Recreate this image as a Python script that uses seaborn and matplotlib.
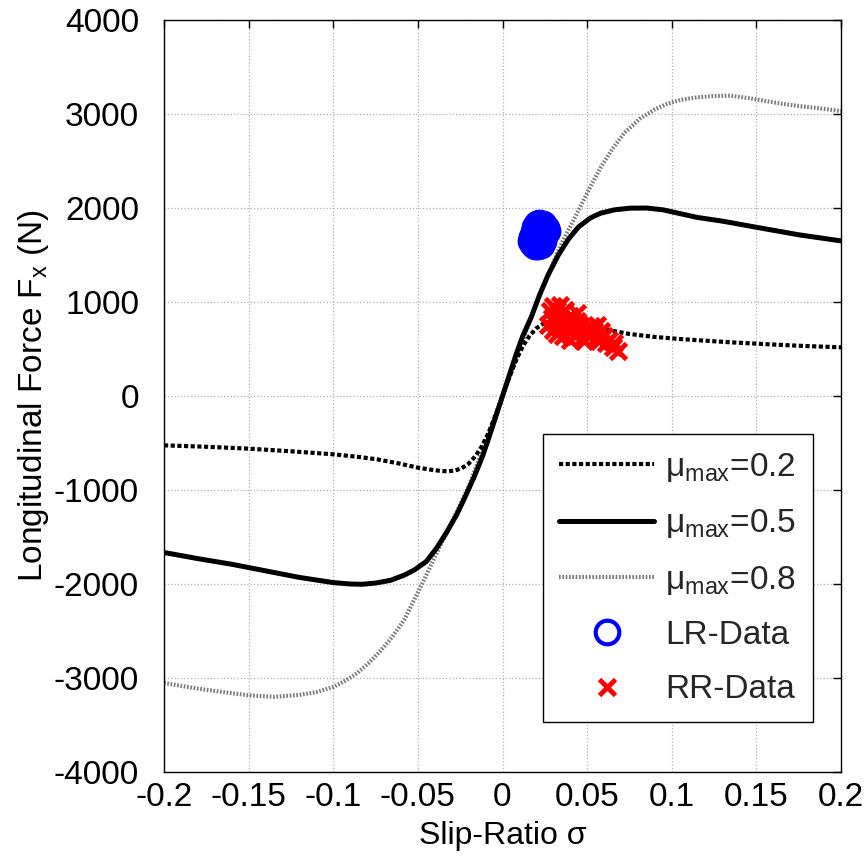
import matplotlib
matplotlib.use("Agg")
import matplotlib.pyplot as plt
import seaborn as sns
import pandas as pd
from matplotlib.lines import Line2D

# ---------------- data ----------------
mu02_s = [-0.2, -0.175, -0.15, -0.125, -0.1, -0.085, -0.074, -0.062, -0.05, -0.042, -0.036,
          -0.032, -0.028, -0.024, -0.02, -0.016, -0.012, -0.008, -0.004, 0.0,
          0.004, 0.008, 0.012, 0.016, 0.02, 0.024, 0.028, 0.032, 0.036, 0.042, 0.05, 0.06,
          0.075, 0.09, 0.105, 0.12, 0.135, 0.15, 0.165, 0.18, 0.2]
mu02_f = [-525, -540, -560, -588, -620, -648, -674, -715, -762, -785, -798,
          -801, -792, -768, -720, -640, -530, -380, -200, 0,
          200, 380, 530, 640, 720, 768, 792, 800, 797, 782, 752, 710,
          660, 628, 606, 588, 571, 557, 543, 531, 518]

mu05_s = [-0.2, -0.18, -0.16, -0.14, -0.12, -0.1, -0.09, -0.083, -0.075, -0.066, -0.058,
          -0.052, -0.045, -0.039, -0.033, -0.027, -0.022, -0.017, -0.012, -0.008, -0.004, 0.0,
          0.004, 0.008, 0.012, 0.017, 0.022, 0.027, 0.033, 0.039, 0.045, 0.052, 0.058,
          0.066, 0.075, 0.085, 0.095, 0.105, 0.115, 0.13, 0.15, 0.175, 0.2]
mu05_f = [-1665, -1730, -1790, -1860, -1930, -1985, -2000, -2003, -1990, -1960, -1905,
          -1850, -1760, -1620, -1450, -1260, -1070, -870, -650, -440, -220, 0,
          220, 440, 640, 840, 1080, 1290, 1500, 1670, 1800, 1895, 1945,
          1980, 1998, 2000, 1980, 1940, 1900, 1860, 1795, 1715, 1650]

mu08_s = [-0.2, -0.18, -0.165, -0.15, -0.135, -0.12, -0.11, -0.1, -0.093, -0.086, -0.079,
          -0.072, -0.065, -0.058, -0.052, -0.047, -0.042, -0.037, -0.032, -0.027, -0.02,
          -0.01, 0.0, 0.01, 0.02, 0.027, 0.032, 0.037, 0.042, 0.047, 0.052, 0.058, 0.065,
          0.072, 0.081, 0.09, 0.097, 0.105, 0.115, 0.125, 0.135, 0.145, 0.155, 0.165,
          0.175, 0.19, 0.2]
mu08_f = [-3053, -3113, -3150, -3184, -3200, -3180, -3150, -3096, -3030, -2950, -2840,
          -2710, -2560, -2380, -2160, -1980, -1790, -1600, -1420, -1230, -960,
          -490, 0, 490, 980, 1280, 1511, 1700, 1870, 2050, 2230, 2430, 2630,
          2800, 2947, 3050, 3106, 3150, 3177, 3192, 3195, 3170, 3140, 3110,
          3085, 3055, 3030]

lr_s = [0.0180, 0.0192, 0.0210, 0.0228, 0.0240, 0.0175, 0.0185, 0.0200, 0.0218, 0.0232,
        0.0248, 0.0190, 0.0205, 0.0222, 0.0240, 0.0255, 0.0212, 0.0228, 0.0198, 0.0215,
        0.0262, 0.0170, 0.0205, 0.0245, 0.0185]
lr_f = [1620, 1600, 1595, 1610, 1650, 1690, 1740, 1700, 1660, 1720,
        1760, 1800, 1830, 1835, 1825, 1790, 1760, 1800, 1640, 1840,
        1760, 1650, 1610, 1700, 1680]

rr_s = [0.028, 0.030, 0.032, 0.034, 0.029, 0.031, 0.033, 0.035, 0.037, 0.036, 0.038,
        0.030, 0.032, 0.034, 0.040, 0.041, 0.039, 0.042, 0.044, 0.043, 0.046, 0.045,
        0.047, 0.049, 0.050, 0.052, 0.054, 0.056, 0.055, 0.058, 0.057, 0.060, 0.061,
        0.063, 0.065, 0.068, 0.066, 0.036, 0.040, 0.027, 0.048, 0.044]
rr_f = [900, 960, 920, 970, 830, 780, 850, 880, 920, 800, 760,
        700, 660, 720, 850, 780, 690, 720, 800, 650, 760, 690,
        620, 700, 650, 740, 690, 760, 620, 690, 580, 640, 560,
        600, 520, 480, 560, 640, 600, 760, 580, 880]

labels = ["μ$_{\\mathrm{max}}$=0.2", "μ$_{\\mathrm{max}}$=0.5", "μ$_{\\mathrm{max}}$=0.8",
          "LR-Data", "RR-Data"]
x_ticks = [-0.2, -0.15, -0.1, -0.05, 0, 0.05, 0.1, 0.15, 0.2]
x_ticklabels = ["-0.2", "-0.15", "-0.1", "-0.05", "0", "0.05", "0.1", "0.15", "0.2"]
y_ticks = [-4000, -3000, -2000, -1000, 0, 1000, 2000, 3000, 4000]

# ---------------- style ----------------
sns.set_theme(style="white")
plt.rcParams["font.family"] = ["Liberation Sans", "DejaVu Sans"]
plt.rcParams["mathtext.fontset"] = "custom"
plt.rcParams["mathtext.rm"] = "Liberation Sans"
plt.rcParams["mathtext.it"] = "Liberation Sans:italic"

fig = plt.figure(figsize=(8.66, 8.59), dpi=100)
ax = fig.add_axes([164 / 866, 1 - 772 / 859, 677 / 866, 752 / 859])

ls02 = (0, (1.0, 0.6))
ls08 = (0, (0.4, 0.4))

sns.lineplot(x=mu08_s, y=mu08_f, ax=ax, color="#7a7a7a", lw=3.0, linestyle=ls08,
             sort=False, estimator=None, legend=False)
sns.lineplot(x=mu02_s, y=mu02_f, ax=ax, color="black", lw=3.0, linestyle=ls02,
             sort=False, estimator=None, legend=False)
sns.lineplot(x=mu05_s, y=mu05_f, ax=ax, color="black", lw=3.6,
             sort=False, estimator=None, legend=False)

sns.lineplot(x=lr_s, y=lr_f, ax=ax, linestyle="none", marker="o", markersize=17,
             markerfacecolor="none", markeredgecolor="blue", markeredgewidth=3,
             sort=False, estimator=None, legend=False)
sns.lineplot(x=rr_s, y=rr_f, ax=ax, linestyle="none", marker="x", markersize=12,
             markeredgecolor="red", markeredgewidth=3.5,
             sort=False, estimator=None, legend=False)

ax.set_xlim(-0.2, 0.2)
ax.set_ylim(-4000, 4000)
ax.set_xticks(x_ticks)
ax.set_xticklabels(x_ticklabels)
ax.set_yticks(y_ticks)
ax.set_yticklabels([str(v) for v in y_ticks])
ax.tick_params(direction="in", length=6, width=1, top=True, right=True,
               labelsize=24, colors="black")
ax.tick_params(axis="y", pad=18)
ax.tick_params(axis="x", pad=7)
ax.grid(True, linestyle=":", color="#b0b0b0", lw=0.9)
for sp in ax.spines.values():
    sp.set_color("black")
    sp.set_linewidth(1.0)

ax.set_xlabel("Slip-Ratio σ", fontsize=23, color="black", labelpad=6)
ax.set_ylabel("Longitudinal Force F$_{\\mathrm{x}}$ (N)", fontsize=24, color="black",
              labelpad=2)

handles = [
    Line2D([], [], color="black", lw=3.0, linestyle=ls02),
    Line2D([], [], color="black", lw=3.6),
    Line2D([], [], color="#7a7a7a", lw=3.0, linestyle=ls08),
    Line2D([], [], linestyle="none", marker="o", markersize=17, markerfacecolor="none",
           markeredgecolor="blue", markeredgewidth=3),
    Line2D([], [], linestyle="none", marker="x", markersize=12, markeredgecolor="red",
           markeredgewidth=3.5),
]
leg = ax.legend(handles, labels, loc="lower right", bbox_to_anchor=(0.959, 0.0665),
                fontsize=24, frameon=True, fancybox=False, framealpha=1,
                edgecolor="black", handlelength=2.85, handletextpad=0.33,
                borderpad=0.5, labelspacing=0.7, borderaxespad=0)
leg.get_frame().set_linewidth(1.0)

fig.savefig("out.png", dpi=100)
